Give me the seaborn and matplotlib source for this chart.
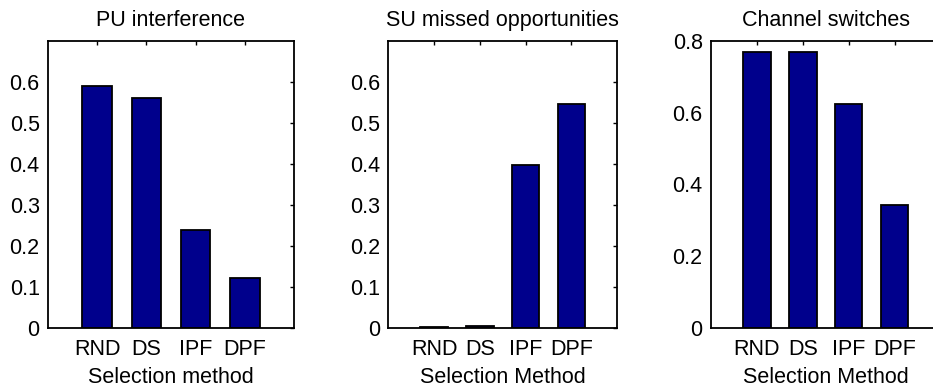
import matplotlib
matplotlib.use("Agg")
import matplotlib.pyplot as plt
import seaborn as sns
import pandas as pd
from matplotlib.ticker import FuncFormatter

# données
methods = ["RND", "DS", "IPF", "DPF"]
pu_interference = [0.590, 0.560, 0.238, 0.123]
su_missed = [0.003, 0.004, 0.397, 0.547]
channel_switches = [0.770, 0.769, 0.625, 0.342]

titles = ["PU interference", "SU missed opportunities", "Channel switches"]
xlabels = ["Selection method", "Selection Method", "Selection Method"]
ylims = [0.7, 0.7, 0.8]
yticks = [[0, 0.1, 0.2, 0.3, 0.4, 0.5, 0.6],
          [0, 0.1, 0.2, 0.3, 0.4, 0.5, 0.6],
          [0, 0.2, 0.4, 0.6, 0.8]]

sns.set_style("white")
plt.rcParams["font.family"] = ["Liberation Sans", "DejaVu Sans"]
plt.rcParams["text.color"] = "black"
plt.rcParams["axes.labelcolor"] = "black"
plt.rcParams["xtick.color"] = "black"
plt.rcParams["ytick.color"] = "black"
FS = 15.5

BAR_COLOR = "#00008C"
W, H = 933, 391
# positions des axes en pixels : (gauche, largeur)
boxes = [(48, 246), (388.3, 228.7), (711, 229.5)]
bottom_px, top_px = 328, 41

fig = plt.figure(figsize=(W / 100, H / 100), dpi=100)

series = [pu_interference, su_missed, channel_switches]
for i, vals in enumerate(series):
    left, width = boxes[i]
    ax = fig.add_axes([left / W, 1 - bottom_px / H, width / W, (bottom_px - top_px) / H])
    df = pd.DataFrame({"method": methods, "value": vals})
    sns.barplot(data=df, x="method", y="value", color=BAR_COLOR, saturation=1,
                width=0.6, edgecolor="black", linewidth=1.3, ax=ax)
    ax.set_xlim(-1, 4)
    ax.set_ylim(0, ylims[i])
    ax.set_yticks(yticks[i])
    ax.yaxis.set_major_formatter(FuncFormatter(lambda v, p: f"{v:g}"))
    ax.set_title(titles[i], fontsize=FS, pad=11, color="black")
    ax.set_xlabel(xlabels[i], fontsize=FS, labelpad=5)
    ax.set_ylabel("")
    ax.tick_params(direction="in", length=3, width=1, top=True, right=True,
                   labelsize=FS, color="black", labelcolor="black")
    ax.tick_params(axis="x", pad=8)
    ax.tick_params(axis="y", pad=6)
    for s in ax.spines.values():
        s.set_linewidth(1.3)
        s.set_color("black")

fig.savefig("out.png", dpi=100)
plt.close(fig)
